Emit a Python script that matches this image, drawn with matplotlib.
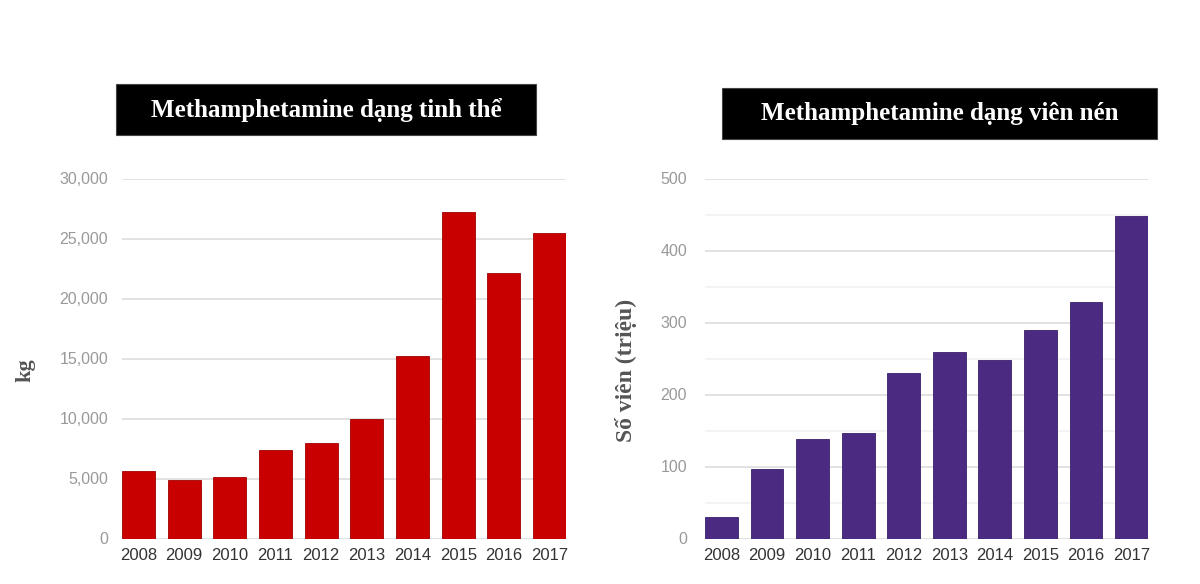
import numpy as np
import matplotlib.pyplot as plt
from matplotlib.patches import Rectangle
from matplotlib.ticker import FuncFormatter, MultipleLocator

# du lieu doc tu hinh
YEARS = ["2008", "2009", "2010", "2011", "2012", "2013", "2014", "2015", "2016", "2017"]
CRYSTAL_KG = [5600, 4900, 5100, 7350, 8000, 10000, 15200, 27200, 22100, 25500]
TABLETS_MIL = [30, 96, 138, 146, 230, 259, 248, 290, 328, 448]

TITLE_LEFT = "Methamphetamine dạng tinh thể"
TITLE_RIGHT = "Methamphetamine dạng viên nén"
YLABEL_LEFT = "kg"
YLABEL_RIGHT = "Số viên (triệu)"

RED = "#c80000"
PURPLE = "#4b2a82"
BAR_W = 0.72

plt.rcParams['font.family'] = ['Liberation Sans', 'DejaVu Sans']

fig = plt.figure(figsize=(12, 5.84), dpi=100)
ax1 = fig.add_axes([122 / 1200, 1 - 538.5 / 584, 444 / 1200, 360 / 584])
ax2 = fig.add_axes([705 / 1200, 1 - 538.5 / 584, 443 / 1200, 360 / 584])

x = np.arange(len(YEARS))


def style_axes(ax, ymax, major, minor=None, ypad=10):
    ax.set_xlim(-BAR_W / 2, len(YEARS) - 1 + BAR_W / 2)
    ax.set_ylim(0, ymax)
    ax.yaxis.set_major_locator(MultipleLocator(major))
    if minor:
        ax.yaxis.set_minor_locator(MultipleLocator(minor))
        ax.grid(axis='y', which='minor', color='#f1f1f1', linewidth=1.2)
    ax.grid(axis='y', which='major', color='#dddddd', linewidth=1.2)
    ax.set_axisbelow(True)
    for s in ax.spines.values():
        s.set_visible(False)
    ax.tick_params(axis='both', which='both', length=0)
    ax.tick_params(axis='y', labelsize=11.5, labelcolor='#999999', pad=ypad)
    ax.tick_params(axis='x', labelsize=12, labelcolor='#333333', pad=7)
    ax.set_xticks(x)
    ax.set_xticklabels(YEARS)


ax1.bar(x, CRYSTAL_KG, width=BAR_W, color=RED, edgecolor='#a00000', linewidth=0.6)
style_axes(ax1, 30000, 5000, ypad=10)
ax1.yaxis.set_major_formatter(FuncFormatter(lambda v, p: f"{int(v):,}"))
ax1.set_ylabel(YLABEL_LEFT, fontsize=16, fontweight='bold', color='#555555',
               family=['Liberation Serif', 'DejaVu Serif'])
ax1.yaxis.set_label_coords(-0.194, 0.468)

ax2.bar(x, TABLETS_MIL, width=BAR_W, color=PURPLE, edgecolor='#3a1f6a', linewidth=0.6)
style_axes(ax2, 500, 100, 50, ypad=13)
ax2.set_ylabel(YLABEL_RIGHT, fontsize=17, fontweight='bold', color='#555555',
               family=['Liberation Serif', 'DejaVu Serif'])
ax2.yaxis.set_label_coords(-0.153, 0.468)

# hop tieu de den
for (x0, y0, w, h, txt) in [(116, 84, 420, 51, TITLE_LEFT), (722, 88, 435, 51, TITLE_RIGHT)]:
    fig.patches.append(Rectangle((x0 / 1200, 1 - (y0 + h) / 584), w / 1200, h / 584,
                                 transform=fig.transFigure, facecolor='black',
                                 edgecolor='#444444', linewidth=0.8))
    fig.text((x0 + w / 2) / 1200, 1 - (y0 + h / 2) / 584, txt, color='white',
             fontsize=18, fontweight='bold', ha='center', va='center',
             family=['Liberation Serif', 'DejaVu Serif'])

fig.savefig("out.png", dpi=100)
